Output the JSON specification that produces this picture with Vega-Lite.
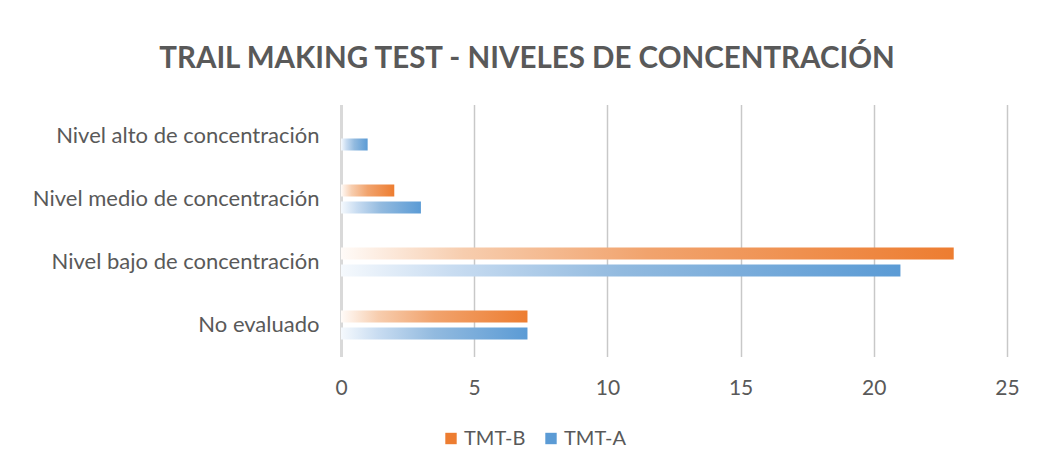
{
  "$schema": "https://vega.github.io/schema/vega-lite/v6.json",
  "width": 666,
  "height": 252,
  "autosize": {"type": "none"},
  "padding": {"left": 341, "top": 104.5, "right": 31, "bottom": 117.5},
  "background": "white",
  "title": {
    "text": "TRAIL MAKING TEST - NIVELES DE CONCENTRACIÓN",
    "font": "Lato",
    "fontSize": 29.5,
    "fontWeight": "bold",
    "color": "#595959",
    "anchor": "middle",
    "dx": -147,
    "baseline": "bottom",
    "offset": 1
  },
  "config": {
    "font": "Lato",
    "view": {"stroke": null}
  },
  "data": {
    "values": [
      {"cat": "Nivel alto de concentración", "series": "TMT-B", "value": 0},
      {"cat": "Nivel alto de concentración", "series": "TMT-A", "value": 1},
      {"cat": "Nivel medio de concentración", "series": "TMT-B", "value": 2},
      {"cat": "Nivel medio de concentración", "series": "TMT-A", "value": 3},
      {"cat": "Nivel bajo de concentración", "series": "TMT-B", "value": 23},
      {"cat": "Nivel bajo de concentración", "series": "TMT-A", "value": 21},
      {"cat": "No evaluado", "series": "TMT-B", "value": 7},
      {"cat": "No evaluado", "series": "TMT-A", "value": 7}
    ]
  },
  "encoding": {
    "y": {
      "field": "cat",
      "type": "nominal",
      "sort": ["Nivel alto de concentración", "Nivel medio de concentración", "Nivel bajo de concentración", "No evaluado"],
      "scale": {"paddingInner": 0, "paddingOuter": 0},
      "axis": {
        "title": null,
        "labelFont": "Lato",
        "labelFontSize": 22,
        "labelColor": "#595959",
        "ticks": false,
        "domain": true,
        "domainColor": "#d9d9d9",
        "domainWidth": 3,
        "labelPadding": 22,
        "grid": false,
        "labelLimit": 400
      }
    },
    "x": {
      "field": "value",
      "type": "quantitative",
      "scale": {"domain": [0, 25], "nice": false},
      "axis": {
        "title": null,
        "values": [0, 5, 10, 15, 20, 25],
        "grid": true,
        "gridColor": "#c8c8c8",
        "gridWidth": 1.5,
        "domain": false,
        "ticks": false,
        "labelFlush": false,
        "labelFont": "Lato",
        "labelFontSize": 21,
        "labelColor": "#595959",
        "labelPadding": 21
      }
    },
    "yOffset": {
      "field": "series",
      "type": "nominal",
      "sort": ["TMT-B", "TMT-A"],
      "scale": {"paddingInner": 0.294, "paddingOuter": 1.0}
    }
  },
  "layer": [
    {
      "mark": {"type": "bar", "opacity": 0},
      "encoding": {
        "color": {
          "field": "series",
          "type": "nominal",
          "scale": {"domain": ["TMT-B", "TMT-A"], "range": ["#ED7D31", "#5B9BD5"]},
          "legend": {
            "title": null,
            "orient": "none",
            "direction": "horizontal",
            "legendX": 100,
            "legendY": 324,
            "symbolType": "square",
            "symbolSize": 130,
            "symbolOpacity": 1,
            "symbolStrokeWidth": 0,
            "labelFont": "Lato",
            "labelFontSize": 20,
            "labelColor": "#595959",
            "columnPadding": 15,
            "labelOffset": 3
          }
        }
      }
    },
    {
      "transform": [{"filter": "datum.series === 'TMT-B'"}],
      "mark": {
        "type": "bar",
        "color": {
          "gradient": "linear",
          "x1": 0, "y1": 0, "x2": 1, "y2": 0,
          "stops": [
            {"offset": 0, "color": "#fffbf8"},
            {"offset": 0.2, "color": "#f7cdae"},
            {"offset": 0.5, "color": "#f1a36d"},
            {"offset": 1, "color": "#ed7d31"}
          ]
        }
      }
    },
    {
      "transform": [{"filter": "datum.series === 'TMT-A'"}],
      "mark": {
        "type": "bar",
        "color": {
          "gradient": "linear",
          "x1": 0, "y1": 0, "x2": 1, "y2": 0,
          "stops": [
            {"offset": 0, "color": "#f5f9fd"},
            {"offset": 0.2, "color": "#c8dcf1"},
            {"offset": 0.5, "color": "#92badf"},
            {"offset": 1, "color": "#5b9bd5"}
          ]
        }
      }
    }
  ]
}
